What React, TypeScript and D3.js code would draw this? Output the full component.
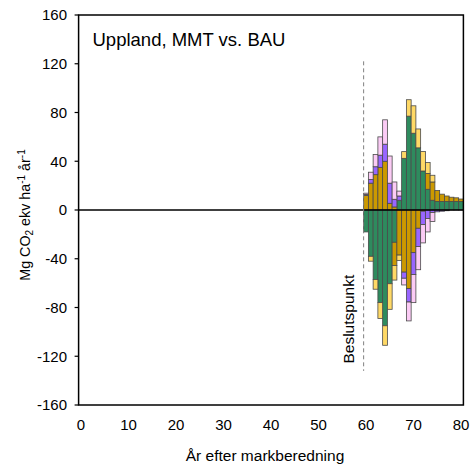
import React from "react";
import * as d3 from "d3";

// Years after soil preparation shown as bars (one bar per year)
const years = [60, 61, 62, 63, 64, 65, 66, 67, 68, 69, 70, 71, 72, 73, 74, 75, 76, 77, 78, 79, 80];

// Positive contributions (Mg CO2 ekv/ha/år)
const greenPos = [0, 0, 0, 0, 0, 0, 0, 8, 42.4, 77, 63, 51, 32, 17, 8, 7, 7, 7, 7, 7, 7];
const goldPos = [12, 22, 29, 35, 40, 5.5, 2.5, 0, 0, 0, 0, 0, 0, 13, 15, 9, 6, 4.5, 3.5, 3, 2];
const violetPos = [0.8, 3, 6.5, 10, 14, 16.5, 6.3, 3.5, 0, 0, 0, 0, 0, 0, 0, 0, 0, 0, 0, 0, 0];
const pinkPos = [1, 6, 10, 15, 20, 22.3, 14.2, 4, 0, 0, 0, 0, 0, 0, 0, 0, 0, 0, 0, 0, 0];
const yellowPos = [0, 0, 0, 0, 0, 0, 0, 0, 5.5, 13.5, 22.5, 15.5, 16, 9, 5.5, 0, 0, 0, 0, 0, 0];

// Negative contributions
const greenNeg = [-18, -38, -57, -76, -95, -60.5, -26.5, 0, 0, 0, 0, 0, 0, 0, 0, 0, 0, 0, 0, 0, 0];
const goldNeg = [0, 0, 0, 0, 0, 0, -19, -37, -51, -64.5, -35, -15, -1, 0, 0, 0, 0, 0, 0, 0, 0];
const violetNeg = [0, 0, 0, 0, 0, 0, 0, 0, -5, -11, -18, -15, -11, -7, -2, -1.5, -1, -0.6, 0, 0, 0];
const pinkNeg = [0, 0, 0, 0, 0, 0, 0, 0, -5.5, -15.5, -23, -19, -15, -11, -7.5, 0, 0, 0, 0, 0, 0];
const yellowNeg = [0, -4, -8, -13, -16, -21, -12, -4.5, 0, 0, 0, 0, 0, 0, 0, 0, 0, 0, 0, 0, 0];

const yTicks = [-160, -120, -80, -40, 0, 40, 80, 120, 160];
const xTicks = [0, 10, 20, 30, 40, 50, 60, 70, 80];

const decisionYear = 59.5;
const decisionSpan = [-132, 122];

const colors: Record<string, string> = {
  green: "#2E8B5E",
  gold: "#CC9900",
  violet: "#9966FF",
  pink: "#FBCBF5",
  yellow: "#FFD966",
};

const keys = [
  "greenPos", "goldPos", "violetPos", "pinkPos", "yellowPos",
  "greenNeg", "goldNeg", "violetNeg", "pinkNeg", "yellowNeg",
];
const keyColor = (k: string) => colors[k.replace(/Pos|Neg/, "")];

const sources: Record<string, number[]> = {
  greenPos, goldPos, violetPos, pinkPos, yellowPos,
  greenNeg, goldNeg, violetNeg, pinkNeg, yellowNeg,
};

const rows = years.map((y, i) => {
  const r: Record<string, number> = { year: y };
  keys.forEach((k) => (r[k] = sources[k][i]));
  return r;
});

const W = 472;
const H = 472;
const left = 78.6;
const right = 463.4;
const top = 15;
const bottom = 405;

export default function App() {
  const x = d3.scaleLinear().domain([-0.5, 80.5]).range([left, right]);
  const y = d3.scaleLinear().domain([-160, 160]).range([bottom, top]);

  const series = d3
    .stack<Record<string, number>>()
    .keys(keys)
    .offset(d3.stackOffsetDiverging)(rows);

  const font = "Arial, 'Liberation Sans', sans-serif";

  return (
    <svg
      width={W}
      height={H}
      style={{ position: "absolute", left: 0, top: 0, background: "#fff" }}
      fontFamily={font}
    >
      <rect width={W} height={H} fill="#fff" />

      {/* stacked bars */}
      {series.map((s) => (
        <g key={s.key}>
          {s.map((d, i) => {
            if (d[1] === d[0]) return null;
            const yr = d.data.year;
            const y0 = y(Math.max(d[0], d[1]));
            const y1 = y(Math.min(d[0], d[1]));
            return (
              <rect
                key={i}
                x={x(yr - 0.5)}
                y={y0}
                width={x(yr + 0.5) - x(yr - 0.5)}
                height={y1 - y0}
                fill={keyColor(s.key)}
                stroke="#4a4a4a"
                strokeWidth={0.8}
              />
            );
          })}
        </g>
      ))}

      {/* zero line */}
      <line x1={left} x2={right} y1={y(0)} y2={y(0)} stroke="#000" strokeWidth={1.5} />

      {/* decision point */}
      <line
        x1={x(decisionYear)}
        x2={x(decisionYear)}
        y1={y(decisionSpan[1])}
        y2={y(decisionSpan[0])}
        stroke="#808080"
        strokeWidth={1}
        strokeDasharray="4,3"
      />
      <text
        transform={`translate(${x(decisionYear) - 9.5},${y(-126)}) rotate(-90)`}
        fontSize={15.5}
        fill="#000"
      >
        Beslutspunkt
      </text>

      {/* frame */}
      <rect
        x={left}
        y={top}
        width={right - left}
        height={bottom - top}
        fill="none"
        stroke="#000"
        strokeWidth={1.5}
      />

      {/* y axis ticks and labels */}
      {yTicks.map((t) => (
        <g key={t}>
          <line x1={left - 4} x2={left} y1={y(t)} y2={y(t)} stroke="#000" strokeWidth={1.2} />
          <text x={67} y={y(t)} dy="0.35em" textAnchor="end" fontSize={15} fill="#000">
            {t}
          </text>
        </g>
      ))}

      {/* x axis labels */}
      {xTicks.map((t) => (
        <text key={t} x={x(t)} y={430} textAnchor="middle" fontSize={15} fill="#000">
          {t}
        </text>
      ))}

      {/* titles */}
      <text x={92.5} y={45.5} fontSize={18.5} fill="#000">
        Uppland, MMT vs. BAU
      </text>
      <text x={265} y={461} textAnchor="middle" fontSize={15.5} fill="#000">
        År efter markberedning
      </text>
      <text transform="translate(30,215) rotate(-90)" textAnchor="middle" fontSize={14.3} fill="#000">
        Mg CO<tspan fontSize={10} dy={3}>2</tspan>
        <tspan dy={-3}> ekv ha</tspan>
        <tspan fontSize={10} dy={-5.5}>-1</tspan>
        <tspan dy={5.5}> år</tspan>
        <tspan fontSize={10} dy={-5.5}>-1</tspan>
      </text>
    </svg>
  );
}
